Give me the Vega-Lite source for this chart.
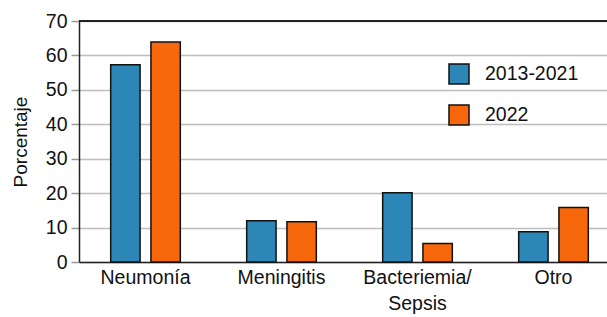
{
  "$schema": "https://vega.github.io/schema/vega-lite/v6.json",
  "width": 528,
  "height": 241,
  "autosize": {"type": "none"},
  "padding": {"left": 79, "top": 21, "right": 0, "bottom": 55},
  "background": "white",
  "config": {
    "view": {"stroke": null},
    "font": "Liberation Sans",
    "axis": {"labelColor": "#111", "titleColor": "#111"},
    "legend": {"labelColor": "#111"}
  },
  "data": {
    "values": [
      {"categoria": "Neumonía", "periodo": "2013-2021", "valor": 57.3},
      {"categoria": "Neumonía", "periodo": "2022", "valor": 63.9},
      {"categoria": "Meningitis", "periodo": "2013-2021", "valor": 12.0},
      {"categoria": "Meningitis", "periodo": "2022", "valor": 11.7},
      {"categoria": "Bacteriemia/Sepsis", "periodo": "2013-2021", "valor": 20.1},
      {"categoria": "Bacteriemia/Sepsis", "periodo": "2022", "valor": 5.4},
      {"categoria": "Otro", "periodo": "2013-2021", "valor": 8.8},
      {"categoria": "Otro", "periodo": "2022", "valor": 15.8}
    ]
  },
  "layer": [
    {
      "mark": {"type": "bar", "stroke": "#111", "strokeWidth": 1.5},
      "encoding": {
        "x": {
          "field": "categoria",
          "type": "nominal",
          "sort": null,
          "scale": {"range": [0, 541], "paddingInner": 0.488, "paddingOuter": 0.233},
          "axis": {
            "title": null,
            "labelAngle": 0,
            "ticks": false,
            "domainColor": "#222",
            "domainWidth": 1.5,
            "labelFontSize": 19.5,
            "labelPadding": 6,
            "labelLineHeight": 26,
            "labelOverlap": false,
            "labelExpr": "datum.label == 'Bacteriemia/Sepsis' ? ['Bacteriemia/', 'Sepsis'] : datum.label"
          }
        },
        "xOffset": {
          "field": "periodo",
          "type": "nominal",
          "sort": ["2013-2021", "2022"],
          "scale": {"paddingInner": 0.27, "paddingOuter": 0}
        },
        "y": {
          "field": "valor",
          "type": "quantitative",
          "scale": {"domain": [0, 70], "nice": false},
          "axis": {
            "values": [0, 10, 20, 30, 40, 50, 60, 70],
            "labelOverlap": false,
            "labelFlush": false,
            "title": "Porcentaje",
            "titleFontSize": 19,
            "titleFontWeight": "normal",
            "titlePadding": 15,
            "gridColor": "#bdbdbd",
            "gridWidth": 1.5,
            "tickColor": "#999",
            "tickSize": 8,
            "tickWidth": 1.5,
            "domainColor": "#222",
            "domainWidth": 1.5,
            "labelFontSize": 19.5,
            "labelPadding": 4
          }
        },
        "color": {
          "field": "periodo",
          "type": "nominal",
          "scale": {"domain": ["2013-2021", "2022"], "range": ["#2D87B6", "#F7680C"]},
          "legend": {
            "title": null,
            "orient": "none",
            "legendX": 369,
            "legendY": 42,
            "padding": 0,
            "symbolType": "square",
            "symbolSize": 400,
            "symbolStrokeColor": "#111",
            "symbolStrokeWidth": 1.5,
            "symbolOpacity": 1,
            "labelFontSize": 19.5,
            "labelOffset": 15,
            "rowPadding": 15
          }
        }
      }
    },
    {
      "mark": {"type": "rule", "color": "#222", "strokeWidth": 1.5},
      "encoding": {
        "y": {
          "datum": 70,
          "type": "quantitative",
          "axis": {
            "values": [0, 10, 20, 30, 40, 50, 60, 70],
            "labelOverlap": false,
            "labelFlush": false,
            "title": "Porcentaje",
            "titleFontSize": 19,
            "titleFontWeight": "normal",
            "titlePadding": 15,
            "gridColor": "#bdbdbd",
            "gridWidth": 1.5,
            "tickColor": "#999",
            "tickSize": 8,
            "tickWidth": 1.5,
            "domainColor": "#222",
            "domainWidth": 1.5,
            "labelFontSize": 19.5,
            "labelPadding": 4
          }
        }
      }
    }
  ]
}
